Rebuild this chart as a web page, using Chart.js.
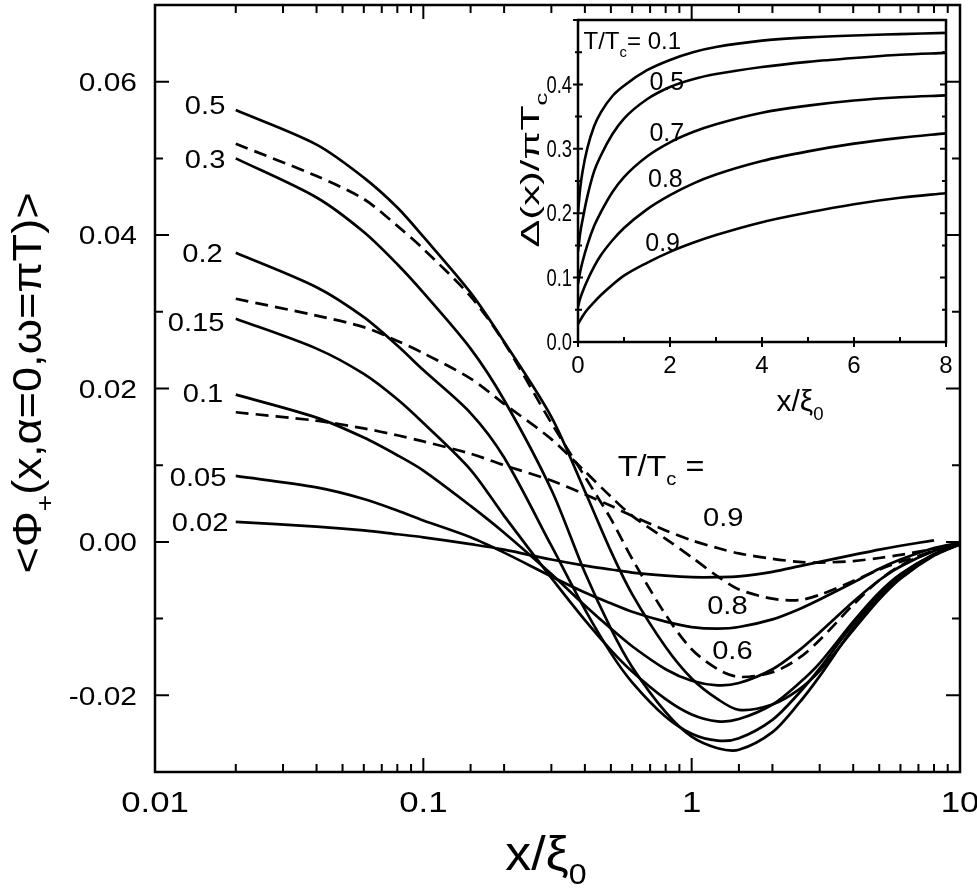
<!DOCTYPE html>
<html><head><meta charset="utf-8">
<script src="https://cdn.jsdelivr.net/npm/chart.js@4.4.1/dist/chart.umd.min.js"></script>
<style>
html,body{margin:0;padding:0;background:#fff;}
#wrap{position:relative;width:977px;height:893px;overflow:hidden;background:#fff;}
#main{position:absolute;left:0;top:0;width:977px;height:893px;}
#inset{position:absolute;left:500px;top:0;width:470px;height:430px;}
</style></head><body>
<div id="wrap"><canvas id="main" width="977" height="893"></canvas><canvas id="inset" width="470" height="430"></canvas></div>
<script>
// ---------------- main panel data ----------------
const xGrid = [0.02,0.04,0.06,0.08,0.1,0.15,0.2,0.3,0.4,0.5,0.6,0.8,1,1.25,1.5,2,2.5,3,4,5,6,8,10];
const phi_T002 = [0.0026,0.0020,0.0015,0.0010,0.0006,-0.0003,-0.0010,-0.0023,-0.0031,-0.0036,-0.0040,-0.0044,-0.0046,-0.0046,-0.0045,-0.0039,-0.0032,-0.0026,-0.0017,-0.0010,-0.0005,0.0002,null];
const phi_T005 = [0.0086,0.0071,0.0056,0.0041,0.0028,0.0006,-0.0014,-0.0045,-0.0066,-0.0080,-0.0091,-0.0104,-0.0111,-0.0113,-0.0111,-0.0101,-0.0088,-0.0075,-0.0053,-0.0035,-0.0023,-0.0008,-0.0001];
const phi_T01  = [0.0192,0.0162,0.0136,0.0113,0.0093,0.0047,0.0012,-0.0042,-0.0083,-0.0113,-0.0136,-0.0166,-0.0181,-0.0187,-0.0184,-0.0166,-0.0142,-0.0118,-0.0078,-0.0050,-0.0032,-0.0012,-0.0002];
const phi_T015 = [0.0291,0.0252,0.0219,0.0186,0.0155,0.0094,0.0034,-0.0047,-0.0102,-0.0141,-0.0169,-0.0205,-0.0225,-0.0234,-0.0231,-0.0212,-0.0185,-0.0158,-0.0104,-0.0066,-0.0042,-0.0016,-0.0003];
const phi_T02  = [0.0377,0.0332,0.0293,0.0256,0.0224,0.0168,0.0110,-0.0005,-0.0088,-0.0145,-0.0183,-0.0228,-0.0250,-0.0259,-0.0256,-0.0232,-0.0198,-0.0165,-0.0107,-0.0068,-0.0043,-0.0016,-0.0003];
const phi_T03  = [0.0500,0.0449,0.0404,0.0362,0.0325,0.0252,0.0185,0.0068,-0.0040,-0.0113,-0.0163,-0.0222,-0.0254,-0.0269,-0.0271,-0.0248,-0.0211,-0.0175,-0.0112,-0.0071,-0.0045,-0.0017,-0.0003];
const phi_T05  = [0.0563,0.0518,0.0475,0.0436,0.0398,0.0325,0.0261,0.0163,0.0066,-0.0012,-0.0068,-0.0137,-0.0178,-0.0205,-0.0219,-0.0212,-0.0193,-0.0168,-0.0115,-0.0075,-0.0048,-0.0018,-0.0003];
const phi_T06  = [0.0519,0.0477,0.0447,0.0412,0.0382,0.0320,0.0260,0.0155,0.0085,0.0030,-0.0022,-0.0095,-0.0140,-0.0166,-0.0176,-0.0170,-0.0152,-0.0128,-0.0082,-0.0050,-0.0031,-0.0011,-0.0002];
const phi_T08  = [0.0317,0.0295,0.0280,0.0262,0.0246,0.0213,0.0180,0.0134,0.0092,0.0059,0.0034,0.0004,-0.0020,-0.0045,-0.0062,-0.0074,-0.0076,-0.0069,-0.0051,-0.0036,-0.0026,-0.0012,-0.0003];
const phi_T09  = [0.0169,0.0158,0.0148,0.0139,0.0131,0.0115,0.0100,0.0080,0.0062,0.0047,0.0034,0.0015,0.0002,-0.0008,-0.0015,-0.0022,-0.0026,-0.0027,-0.0025,-0.0021,-0.0017,-0.0009,-0.0003];
const mainXTickLabels = ["0.01","0.1","1","10"];

// ---------------- inset data ----------------
const insetX  = [0,0.05,0.1,0.2,0.35,0.5,0.75,1,1.5,2,2.5,3,4,5,6,7,8];
const gap_T01 = [0.20,0.24,0.265,0.30,0.335,0.357,0.382,0.398,0.422,0.438,0.450,0.458,0.468,0.473,0.476,0.478,0.480];
const gap_T05 = [0.14,0.17,0.19,0.225,0.265,0.29,0.323,0.347,0.377,0.396,0.408,0.416,0.427,0.435,0.441,0.446,0.449];
const gap_T07 = [0.09,0.11,0.125,0.15,0.18,0.202,0.233,0.256,0.288,0.31,0.326,0.338,0.356,0.367,0.375,0.38,0.383];
const gap_T08 = [0.055,0.068,0.078,0.095,0.117,0.135,0.158,0.177,0.206,0.228,0.246,0.26,0.281,0.296,0.308,0.317,0.324];
const gap_T09 = [0.028,0.034,0.04,0.05,0.062,0.073,0.089,0.103,0.123,0.140,0.154,0.166,0.186,0.201,0.214,0.224,0.231];

const FONT = '"Liberation Sans", Arial, Helvetica, sans-serif';

function richText(ctx, parts, x, y, o) {
  const size = o.size, stretch = o.stretch || 1;
  ctx.save();
  ctx.translate(x, y);
  if (o.rotate) ctx.rotate(o.rotate);
  ctx.scale(stretch, 1);
  let W = 0;
  const segs = parts.map(p => {
    const s = p.sub ? size * 0.62 : size;
    ctx.font = s + 'px ' + FONT;
    const w = ctx.measureText(p.t).width;
    W += w;
    return {p, s, w};
  });
  let cx = o.align === 'center' ? -W / 2 : (o.align === 'right' ? -W : 0);
  const base = o.vcenter ? size * 0.358 : 0;
  ctx.fillStyle = '#000';
  ctx.textBaseline = 'alphabetic';
  ctx.textAlign = 'left';
  segs.forEach(({p, s, w}) => {
    ctx.font = s + 'px ' + FONT;
    ctx.fillText(p.t, cx, base + (p.sub ? size * 0.30 : 0));
    cx += w;
  });
  ctx.restore();
}

// ---------------- main chart ----------------
const mainSeries = [
  {name:'0.02', vals:phi_T002, dash:false},
  {name:'0.05', vals:phi_T005, dash:false},
  {name:'0.1',  vals:phi_T01,  dash:false},
  {name:'0.15', vals:phi_T015, dash:false},
  {name:'0.2',  vals:phi_T02,  dash:false},
  {name:'0.3',  vals:phi_T03,  dash:false},
  {name:'0.5',  vals:phi_T05,  dash:false},
  {name:'0.6',  vals:phi_T06,  dash:true},
  {name:'0.8',  vals:phi_T08,  dash:true},
  {name:'0.9',  vals:phi_T09,  dash:true}
];

const mainCurveLabels = [
  {t:'0.5',  x:0.01537, y:0.0570},
  {t:'0.3',  x:0.01537, y:0.0499},
  {t:'0.2',  x:0.01504, y:0.0377},
  {t:'0.15', x:0.01422, y:0.0287},
  {t:'0.1',  x:0.01510, y:0.0195},
  {t:'0.05', x:0.01447, y:0.0085},
  {t:'0.02', x:0.01472, y:0.0026},
  {t:'0.9',  x:1.311,   y:0.0033},
  {t:'0.8',  x:1.359,   y:-0.0082},
  {t:'0.6',  x:1.418,   y:-0.0140}
];

const mainPlugin = {
  id: 'mainDecor',
  beforeDraw(chart) {
    const c = chart.ctx;
    c.save(); c.fillStyle = '#fff'; c.fillRect(0, 0, chart.width, chart.height); c.restore();
  },
  afterDraw(chart) {
    const c = chart.ctx, a = chart.chartArea, xs = chart.scales.x, ys = chart.scales.y;
    c.save();
    c.strokeStyle = '#000';
    c.lineWidth = 2;
    xs.ticks.forEach(tk => {
      const v = tk.value, lg = Math.log10(v), n = Math.round(lg);
      const major = Math.abs(lg - n) < 1e-6;
      const len = major ? 14 : 8;
      const px = xs.getPixelForValue(v);
      c.beginPath();
      c.moveTo(px, a.bottom); c.lineTo(px, a.bottom - len);
      c.moveTo(px, a.top); c.lineTo(px, a.top + len);
      c.stroke();
      if (major) {
        const lab = mainXTickLabels[n + 2];
        if (lab) richText(c, [{t:lab}], px, a.bottom + 30, {size:29, stretch:1.2, align:'center', vcenter:true});
      }
    });
    ys.ticks.forEach(tk => {
      const v = tk.value;
      const k = Math.round(v * 100);
      const major = k % 2 === 0;
      const len = major ? 14 : 8;
      const py = ys.getPixelForValue(v);
      c.beginPath();
      c.moveTo(a.left, py); c.lineTo(a.left + len, py);
      c.moveTo(a.right, py); c.lineTo(a.right - len, py);
      c.stroke();
      if (major) {
        let lab = (k / 100).toFixed(2);
        if (lab === '-0.00') lab = '0.00';
        richText(c, [{t:lab}], a.left - 18, py, {size:26, stretch:1.15, align:'right', vcenter:true});
      }
    });
    c.lineWidth = 2.5;
    c.strokeRect(a.left, a.top, a.right - a.left, a.bottom - a.top);
    c.restore();
    mainCurveLabels.forEach(L => {
      richText(c, [{t:L.t}], xs.getPixelForValue(L.x), ys.getPixelForValue(L.y), {size:26, stretch:1.12, align:'center', vcenter:true});
    });
    richText(c, [{t:'T/T'},{t:'c',sub:true},{t:' ='}], xs.getPixelForValue(0.769), ys.getPixelForValue(0.0100), {size:30, stretch:1.08, align:'center', vcenter:true});
    richText(c, [{t:'<\u03A6'},{t:'+',sub:true},{t:'(x,\u03B1=0,\u03C9=\u03C0T)>'}], 27, 383, {size:40, stretch:1.13, align:'center', vcenter:true, rotate:-Math.PI/2});
    richText(c, [{t:'x/\u03BE'},{t:'0',sub:true}], 546, 870, {size:48, stretch:1.08, align:'center'});
  }
};

const mainDatasets = mainSeries.map(s => ({
  label: 'T/Tc = ' + s.name,
  data: xGrid.map((x, i) => ({x: x, y: s.vals[i]})).filter(p => p.y !== null),
  showLine: true,
  borderColor: '#000',
  borderWidth: 2.7,
  borderDash: s.dash ? [13, 7] : [],
  pointRadius: 0,
  tension: 0.3,
  fill: false
}));

new Chart(document.getElementById('main'), {
  type: 'scatter',
  data: {datasets: mainDatasets},
  options: {
    responsive: false, animation: false,
    layout: {padding: {left: 0, right: 17, top: 5, bottom: 0}, autoPadding: false},
    plugins: {legend: {display: false}, tooltip: {enabled: false}},
    scales: {
      x: {type: 'logarithmic', min: 0.01, max: 10,
          grid: {display: false}, border: {display: false},
          ticks: {display: false, autoSkip: false},
          afterFit(s) { s.height = 121; }},
      y: {type: 'linear', min: -0.03, max: 0.07,
          grid: {display: false}, border: {display: false},
          ticks: {display: false, stepSize: 0.01, autoSkip: false},
          afterFit(s) { s.width = 155; }}
    }
  },
  plugins: [mainPlugin]
});

// ---------------- inset chart ----------------
const insetSeries = [
  {name:'0.1', vals:gap_T01},
  {name:'0.5', vals:gap_T05},
  {name:'0.7', vals:gap_T07},
  {name:'0.8', vals:gap_T08},
  {name:'0.9', vals:gap_T09}
];
const insetLabels = [
  {t:'0.5', x:1.93, y:0.4055},
  {t:'0.7', x:1.93, y:0.3264},
  {t:'0.8', x:1.90, y:0.2540},
  {t:'0.9', x:1.84, y:0.1554}
];

const insetPlugin = {
  id: 'insetDecor',
  beforeDatasetsDraw(chart) {
    const c = chart.ctx, a = chart.chartArea;
    c.save(); c.fillStyle = '#fff'; c.fillRect(a.left, a.top, a.right - a.left, a.bottom - a.top); c.restore();
  },
  afterDraw(chart) {
    const c = chart.ctx, a = chart.chartArea, xs = chart.scales.x, ys = chart.scales.y;
    c.save();
    c.strokeStyle = '#000';
    c.lineWidth = 2;
    xs.ticks.forEach(tk => {
      const v = tk.value, major = Math.round(v) % 2 === 0;
      const px = xs.getPixelForValue(v);
      const out = major ? 5 : 0;
      c.beginPath();
      c.moveTo(px, a.bottom + out); c.lineTo(px, a.bottom - 5);
      c.stroke();
      if (major) richText(c, [{t:String(Math.round(v))}], px, a.bottom + 22, {size:24, align:'center', vcenter:true});
    });
    ys.ticks.forEach(tk => {
      const v = tk.value, k = Math.round(v * 100);
      const major = k % 10 === 0;
      const py = ys.getPixelForValue(v);
      c.beginPath();
      c.moveTo(a.left - (major ? 5 : 3), py); c.lineTo(a.left + (major ? 5 : 4), py);
      c.moveTo(a.right, py); c.lineTo(a.right - (major ? 6 : 4), py);
      c.stroke();
      if (major && k < 50) richText(c, [{t:(k / 100).toFixed(1)}], a.left - 6, py, {size:23, stretch:0.8, align:'right', vcenter:true});
    });
    c.lineWidth = 2.5;
    c.strokeRect(a.left, a.top, a.right - a.left, a.bottom - a.top);
    c.restore();
    insetLabels.forEach(L => {
      richText(c, [{t:L.t}], xs.getPixelForValue(L.x), ys.getPixelForValue(L.y), {size:25, align:'center', vcenter:true});
    });
    richText(c, [{t:'T/T'},{t:'c',sub:true},{t:'= 0.1'}], xs.getPixelForValue(0.12), ys.getPixelForValue(0.4677), {size:24, align:'left', vcenter:true});
    richText(c, [{t:'x/\u03BE'},{t:'0',sub:true}], 300, 411, {size:30, align:'center'});
    richText(c, [{t:'\u0394(x)/\u03C0T'},{t:'c',sub:true}], 30, 170, {size:26, stretch:1.6, align:'center', vcenter:true, rotate:-Math.PI/2});
  }
};

const insetDatasets = insetSeries.map(s => ({
  label: 'T/Tc = ' + s.name,
  data: insetX.map((x, i) => ({x: x, y: s.vals[i]})),
  showLine: true,
  borderColor: '#000',
  borderWidth: 2.6,
  pointRadius: 0,
  cubicInterpolationMode: 'monotone',
  fill: false
}));

new Chart(document.getElementById('inset'), {
  type: 'scatter',
  data: {datasets: insetDatasets},
  options: {
    responsive: false, animation: false,
    layout: {padding: {left: 0, right: 24, top: 20, bottom: 0}, autoPadding: false},
    plugins: {legend: {display: false}, tooltip: {enabled: false}},
    scales: {
      x: {type: 'linear', min: 0, max: 8,
          grid: {display: false}, border: {display: false},
          ticks: {display: false, stepSize: 1},
          afterFit(s) { s.height = 88; }},
      y: {type: 'linear', min: 0, max: 0.5,
          grid: {display: false}, border: {display: false},
          ticks: {display: false, stepSize: 0.05},
          afterFit(s) { s.width = 78; }}
    }
  },
  plugins: [insetPlugin]
});
</script></body></html>
